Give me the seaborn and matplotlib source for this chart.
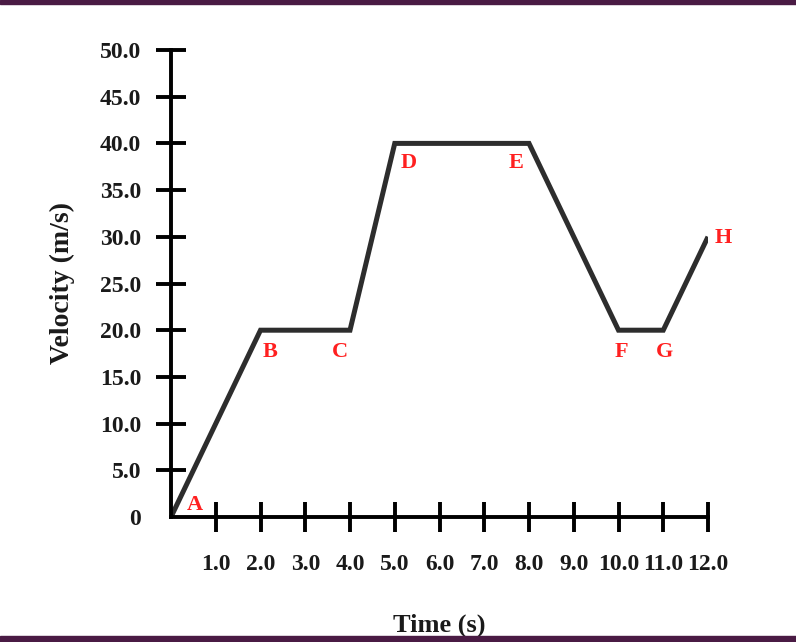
import matplotlib
matplotlib.use('Agg')
import matplotlib.pyplot as plt
from matplotlib.patches import Rectangle
import pandas as pd
import seaborn as sns

sns.set_style("white")
plt.rcParams['font.family'] = ['Liberation Serif', 'DejaVu Serif']
plt.rcParams['font.weight'] = 'bold'

# data
points = ["A", "B", "C", "D", "E", "F", "G", "H"]
time_s = [0, 2, 4, 5, 8, 10, 11, 12]
velocity = [0, 20, 20, 40, 40, 20, 20, 30]
x_ticks = [1, 2, 3, 4, 5, 6, 7, 8, 9, 10, 11, 12]
x_tick_labels = ["1.0", "2.0", "3.0", "4.0", "5.0", "6.0", "7.0", "8.0", "9.0", "10.0", "11.0", "12.0"]
y_ticks = [5, 10, 15, 20, 25, 30, 35, 40, 45, 50]
y_tick_labels = ["5.0", "10.0", "15.0", "20.0", "25.0", "30.0", "35.0", "40.0", "45.0", "50.0"]
y_zero = [0]
y_zero_label = ["0"]

df = pd.DataFrame({"point": points, "time": time_s, "velocity": velocity})

# label offsets (points) relative to each vertex
offsets = {"A": (17, 9), "B": (7, -16), "C": (-7, -16), "D": (10, -14), "E": (-9, -14),
           "F": (2, -16), "G": (1, -16), "H": (11, -1)}

fig = plt.figure(figsize=(7.96, 6.42), dpi=100)
ax = fig.add_axes([171 / 796, 1 - 517 / 642, 537 / 796, 467 / 642])

sns.lineplot(data=df, x="time", y="velocity", sort=False, color="#2d2d2d", linewidth=3.6, ax=ax)
for line in ax.get_lines():
    line.set_solid_joinstyle('miter')
    line.set_solid_capstyle('butt')

for _, row in df.iterrows():
    dx, dy = offsets[row["point"]]
    ax.annotate(row["point"], (row["time"], row["velocity"]), xytext=(dx, dy), textcoords="offset points",
                ha="center", va="center", color="#ff2020", fontsize=16, fontweight="bold")

ax.set_xlim(0, 12)
ax.set_ylim(0, 50)
ax.set_xticks(x_ticks)
ax.set_xticklabels(x_tick_labels)
ax.set_yticks(y_ticks)
ax.set_yticklabels(y_tick_labels)
# the zero label has no tick mark of its own
ax.set_yticks(y_zero, minor=True)
ax.set_yticklabels(y_zero_label, minor=True)

for side in ["top", "right"]:
    ax.spines[side].set_visible(False)
for side in ["left", "bottom"]:
    ax.spines[side].set_linewidth(2.8)
    ax.spines[side].set_color("black")
    ax.spines[side].set_capstyle("projecting")

ax.tick_params(axis="both", which="major", direction="inout", length=21, width=2.8, colors="black",
               labelsize=17, bottom=True, left=True, labelcolor="#1a1a1a")
ax.tick_params(axis="x", which="major", pad=16)
ax.tick_params(axis="y", which="major", pad=11)
ax.tick_params(axis="y", which="minor", length=0, left=True, labelsize=17, pad=21.5, labelcolor="#1a1a1a")
ax.set_xlabel("Time (s)", fontsize=19, fontweight="bold", labelpad=28, color="#1a1a1a")
ax.set_ylabel("Velocity (m/s)", fontsize=20, fontweight="bold", labelpad=18, color="#1a1a1a")
ax.patch.set_alpha(0)

# dark frame strips at the top and bottom
fig.patches.append(Rectangle((0, 1 - 4 / 642), 1, 4 / 642, transform=fig.transFigure, color="#4a1b44", zorder=0))
fig.patches.append(Rectangle((0, 0), 1, 6 / 642, transform=fig.transFigure, color="#4a1b44", zorder=0))

fig.savefig("out.png", dpi=100)
